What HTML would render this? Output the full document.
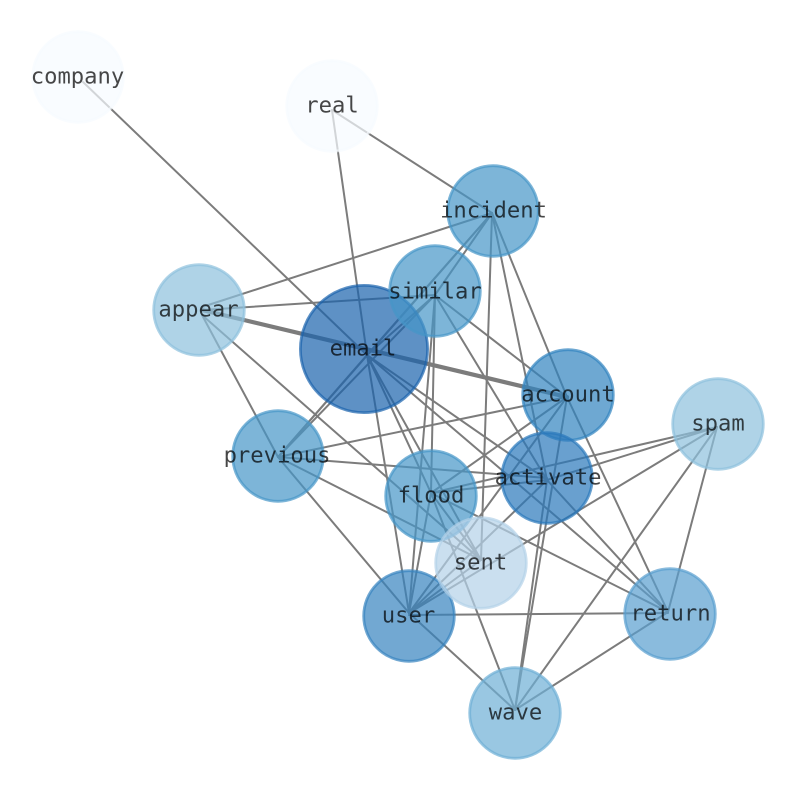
<!DOCTYPE html>
<html><head><meta charset="utf-8"><style>
html,body{margin:0;padding:0;background:#fff}
svg{display:block}
text{font-family:"DejaVu Sans Mono","Liberation Mono",monospace;font-size:22.2px;text-anchor:middle;fill:#000;fill-opacity:.72}
line{stroke:#7c7c7c;stroke-width:2;stroke-linecap:round}
line.t{stroke-width:4.2}
circle{stroke-width:2.8}
</style></head><body>
<svg width="794" height="790" viewBox="0 0 794 790" xmlns="http://www.w3.org/2000/svg">
<g>
<line x1="83" y1="82" x2="367" y2="355"/>
<line x1="332" y1="110" x2="367" y2="355"/>
<line x1="332" y1="110" x2="492" y2="213"/>
<line x1="492" y1="213" x2="202" y2="307"/>
<line x1="492" y1="213" x2="367" y2="355"/>
<line x1="492" y1="213" x2="278" y2="457"/>
<line x1="492" y1="213" x2="435" y2="295"/>
<line x1="492" y1="213" x2="481" y2="560"/>
<line x1="492" y1="213" x2="567" y2="397"/>
<line x1="492" y1="213" x2="547" y2="480"/>
<line x1="435" y1="295" x2="202" y2="310"/>
<line x1="435" y1="295" x2="367" y2="355"/>
<line x1="435" y1="295" x2="278" y2="457"/>
<line x1="435" y1="295" x2="431" y2="493"/>
<line x1="435" y1="295" x2="409" y2="613"/>
<line x1="435" y1="295" x2="567" y2="397"/>
<line x1="435" y1="295" x2="547" y2="480"/>
<line class="t" x1="202" y1="310" x2="567" y2="397"/>
<line x1="202" y1="315" x2="278" y2="457"/>
<line x1="202" y1="315" x2="481" y2="560"/>
<line x1="278" y1="457" x2="367" y2="355"/>
<line x1="278" y1="457" x2="567" y2="397"/>
<line x1="278" y1="457" x2="547" y2="478"/>
<line x1="278" y1="457" x2="481" y2="560"/>
<line x1="278" y1="457" x2="409" y2="613"/>
<line x1="367" y1="355" x2="431" y2="493"/>
<line x1="367" y1="355" x2="409" y2="613"/>
<line x1="367" y1="355" x2="481" y2="560"/>
<line x1="367" y1="355" x2="547" y2="480"/>
<line x1="367" y1="355" x2="668" y2="612"/>
<line x1="567" y1="397" x2="431" y2="493"/>
<line x1="567" y1="397" x2="409" y2="613"/>
<line x1="567" y1="397" x2="515" y2="710"/>
<line x1="567" y1="397" x2="668" y2="612"/>
<line x1="717" y1="427" x2="547" y2="480"/>
<line x1="717" y1="427" x2="431" y2="493"/>
<line x1="717" y1="427" x2="409" y2="613"/>
<line x1="717" y1="427" x2="515" y2="710"/>
<line x1="717" y1="427" x2="668" y2="612"/>
<line x1="547" y1="480" x2="431" y2="493"/>
<line x1="547" y1="480" x2="409" y2="613"/>
<line x1="547" y1="480" x2="668" y2="612"/>
<line x1="547" y1="480" x2="515" y2="710"/>
<line x1="431" y1="493" x2="409" y2="613"/>
<line x1="431" y1="493" x2="668" y2="612"/>
<line x1="431" y1="493" x2="481" y2="560"/>
<line x1="431" y1="493" x2="515" y2="710"/>
<line x1="481" y1="560" x2="409" y2="613"/>
<line x1="409" y1="615" x2="668" y2="613"/>
<line x1="409" y1="613" x2="515" y2="710"/>
<line x1="668" y1="612" x2="515" y2="710"/>
</g>
<g>
<circle cx="364" cy="349" r="63.6" fill="rgb(25,99,172)" fill-opacity=".7" stroke="rgb(25,99,172)" stroke-opacity=".7"/>
<circle cx="78" cy="77" r="45.3" fill="rgb(247,251,255)" fill-opacity=".7" stroke="rgb(247,251,255)" stroke-opacity=".7"/>
<circle cx="332" cy="106" r="45.3" fill="rgb(247,251,255)" fill-opacity=".7" stroke="rgb(247,251,255)" stroke-opacity=".7"/>
<circle cx="493" cy="211" r="45.3" fill="rgb(70,150,200)" fill-opacity=".7" stroke="rgb(70,150,200)" stroke-opacity=".7"/>
<circle cx="435" cy="291" r="45.3" fill="rgb(70,150,200)" fill-opacity=".7" stroke="rgb(70,150,200)" stroke-opacity=".7"/>
<circle cx="199" cy="310" r="45.3" fill="rgb(141,192,221)" fill-opacity=".7" stroke="rgb(141,192,221)" stroke-opacity=".7"/>
<circle cx="568" cy="395" r="45.3" fill="rgb(49,131,191)" fill-opacity=".7" stroke="rgb(49,131,191)" stroke-opacity=".7"/>
<circle cx="718" cy="424" r="45.3" fill="rgb(141,192,221)" fill-opacity=".7" stroke="rgb(141,192,221)" stroke-opacity=".7"/>
<circle cx="278" cy="456" r="45.3" fill="rgb(70,150,200)" fill-opacity=".7" stroke="rgb(70,150,200)" stroke-opacity=".7"/>
<circle cx="547" cy="478" r="45.3" fill="rgb(42,119,186)" fill-opacity=".7" stroke="rgb(42,119,186)" stroke-opacity=".7"/>
<circle cx="431" cy="496" r="45.3" fill="rgb(70,150,200)" fill-opacity=".7" stroke="rgb(70,150,200)" stroke-opacity=".7"/>
<circle cx="409" cy="616" r="45.3" fill="rgb(54,131,191)" fill-opacity=".7" stroke="rgb(54,131,191)" stroke-opacity=".7"/>
<circle cx="481" cy="563" r="45.3" fill="rgb(180,210,232)" fill-opacity=".7" stroke="rgb(180,210,232)" stroke-opacity=".7"/>
<circle cx="670" cy="614" r="45.3" fill="rgb(88,158,207)" fill-opacity=".7" stroke="rgb(88,158,207)" stroke-opacity=".7"/>
<circle cx="515" cy="713" r="45.3" fill="rgb(109,175,214)" fill-opacity=".7" stroke="rgb(109,175,214)" stroke-opacity=".7"/>
</g>
<g>
<text x="77.500" y="83.500">company</text>
<text x="332" y="112.700">real</text>
<text x="493.500" y="217.700">incident</text>
<text x="435" y="298.500">similar</text>
<text x="198.500" y="316.700">appear</text>
<text x="363" y="355.700">email</text>
<text x="568" y="401.700">account</text>
<text x="718" y="430.700">spam</text>
<text x="277" y="462.700">previous</text>
<text x="548" y="484.700">activate</text>
<text x="431" y="502.700">flood</text>
<text x="480.500" y="569.700">sent</text>
<text x="408.500" y="622.700">user</text>
<text x="670.500" y="620.700">return</text>
<text x="515.500" y="719.700">wave</text>
</g>
</svg>
</body></html>
